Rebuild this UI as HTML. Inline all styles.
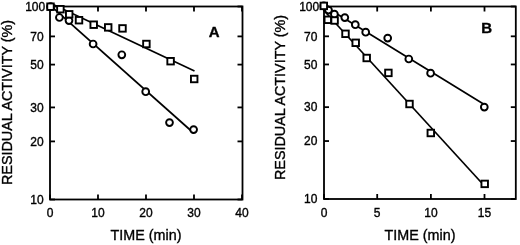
<!DOCTYPE html>
<html><head><meta charset="utf-8"><style>
html,body{margin:0;padding:0;background:#fff;}
svg{display:block;will-change:transform;}
text{font-family:"Liberation Sans", sans-serif;fill:#000;stroke:#000;stroke-width:0.35px;}
</style></head><body>
<svg width="520" height="245" viewBox="0 0 520 245">
<defs><filter id="bl" x="0" y="0" width="100%" height="100%"><feGaussianBlur stdDeviation="0.3"/></filter></defs>
<rect width="520" height="245" fill="#fff"/>
<g filter="url(#bl)">
<rect width="520" height="245" fill="#fff"/>
<rect x="50" y="6.5" width="192.5" height="193.0" fill="none" stroke="#000" stroke-width="1.8"/>
<line x1="50" y1="199.5" x2="50" y2="194.5" stroke="#000" stroke-width="1.8"/>
<line x1="50" y1="6.5" x2="50" y2="11.5" stroke="#000" stroke-width="1.8"/>
<text x="50" y="216.5" text-anchor="middle" font-size="12">0</text>
<line x1="98" y1="199.5" x2="98" y2="194.5" stroke="#000" stroke-width="1.8"/>
<line x1="98" y1="6.5" x2="98" y2="11.5" stroke="#000" stroke-width="1.8"/>
<text x="98" y="216.5" text-anchor="middle" font-size="12">10</text>
<line x1="146" y1="199.5" x2="146" y2="194.5" stroke="#000" stroke-width="1.8"/>
<line x1="146" y1="6.5" x2="146" y2="11.5" stroke="#000" stroke-width="1.8"/>
<text x="146" y="216.5" text-anchor="middle" font-size="12">20</text>
<line x1="194" y1="199.5" x2="194" y2="194.5" stroke="#000" stroke-width="1.8"/>
<line x1="194" y1="6.5" x2="194" y2="11.5" stroke="#000" stroke-width="1.8"/>
<text x="194" y="216.5" text-anchor="middle" font-size="12">30</text>
<line x1="242" y1="199.5" x2="242" y2="194.5" stroke="#000" stroke-width="1.8"/>
<line x1="242" y1="6.5" x2="242" y2="11.5" stroke="#000" stroke-width="1.8"/>
<text x="242" y="216.5" text-anchor="middle" font-size="12">40</text>
<line x1="50" y1="6.50" x2="55" y2="6.50" stroke="#000" stroke-width="1.8"/>
<line x1="242.5" y1="6.50" x2="237.5" y2="6.50" stroke="#000" stroke-width="1.8"/>
<text x="45.2" y="10.70" text-anchor="end" font-size="12">100</text>
<line x1="50" y1="36.40" x2="55" y2="36.40" stroke="#000" stroke-width="1.8"/>
<line x1="242.5" y1="36.40" x2="237.5" y2="36.40" stroke="#000" stroke-width="1.8"/>
<text x="43.7" y="40.60" text-anchor="end" font-size="12">70</text>
<line x1="50" y1="64.60" x2="55" y2="64.60" stroke="#000" stroke-width="1.8"/>
<line x1="242.5" y1="64.60" x2="237.5" y2="64.60" stroke="#000" stroke-width="1.8"/>
<text x="43.7" y="68.80" text-anchor="end" font-size="12">50</text>
<line x1="50" y1="107.42" x2="55" y2="107.42" stroke="#000" stroke-width="1.8"/>
<line x1="242.5" y1="107.42" x2="237.5" y2="107.42" stroke="#000" stroke-width="1.8"/>
<text x="43.7" y="111.62" text-anchor="end" font-size="12">30</text>
<line x1="50" y1="141.40" x2="55" y2="141.40" stroke="#000" stroke-width="1.8"/>
<line x1="242.5" y1="141.40" x2="237.5" y2="141.40" stroke="#000" stroke-width="1.8"/>
<text x="43.7" y="145.60" text-anchor="end" font-size="12">20</text>
<line x1="50" y1="199.50" x2="55" y2="199.50" stroke="#000" stroke-width="1.8"/>
<line x1="242.5" y1="199.50" x2="237.5" y2="199.50" stroke="#000" stroke-width="1.8"/>
<text x="43.7" y="203.70" text-anchor="end" font-size="12">10</text>
<line x1="51" y1="3.5" x2="194.5" y2="70.9" stroke="#000" stroke-width="1.7"/>
<line x1="50.5" y1="5.6" x2="193.6" y2="133" stroke="#000" stroke-width="1.7"/>
<circle cx="50.5" cy="6.7" r="3.4" fill="#fff" stroke="#000" stroke-width="1.9"/>
<circle cx="59.4" cy="17.5" r="3.4" fill="#fff" stroke="#000" stroke-width="1.9"/>
<circle cx="69" cy="20.6" r="3.4" fill="#fff" stroke="#000" stroke-width="1.9"/>
<circle cx="93.1" cy="44" r="3.4" fill="#fff" stroke="#000" stroke-width="1.9"/>
<circle cx="121.8" cy="54.8" r="3.4" fill="#fff" stroke="#000" stroke-width="1.9"/>
<circle cx="145.7" cy="91.7" r="3.4" fill="#fff" stroke="#000" stroke-width="1.9"/>
<circle cx="169.5" cy="122.6" r="3.4" fill="#fff" stroke="#000" stroke-width="1.9"/>
<circle cx="193.6" cy="129.6" r="3.4" fill="#fff" stroke="#000" stroke-width="1.9"/>
<rect x="47.25" y="3.45" width="6.5" height="6.5" fill="#fff" stroke="#000" stroke-width="1.9"/>
<rect x="57.15" y="5.95" width="6.5" height="6.5" fill="#fff" stroke="#000" stroke-width="1.9"/>
<rect x="65.95" y="11.05" width="6.5" height="6.5" fill="#fff" stroke="#000" stroke-width="1.9"/>
<rect x="75.75" y="16.95" width="6.5" height="6.5" fill="#fff" stroke="#000" stroke-width="1.9"/>
<rect x="90.45" y="21.45" width="6.5" height="6.5" fill="#fff" stroke="#000" stroke-width="1.9"/>
<rect x="104.95" y="24.15" width="6.5" height="6.5" fill="#fff" stroke="#000" stroke-width="1.9"/>
<rect x="119.25" y="25.15" width="6.5" height="6.5" fill="#fff" stroke="#000" stroke-width="1.9"/>
<rect x="143.15" y="40.75" width="6.5" height="6.5" fill="#fff" stroke="#000" stroke-width="1.9"/>
<rect x="167.35" y="57.95" width="6.5" height="6.5" fill="#fff" stroke="#000" stroke-width="1.9"/>
<rect x="190.95" y="75.75" width="6.5" height="6.5" fill="#fff" stroke="#000" stroke-width="1.9"/>
<text x="146" y="240.3" text-anchor="middle" font-size="14.35">TIME (min)</text>
<text transform="translate(12.2,102.5) rotate(-90)" text-anchor="middle" font-size="14.35">RESIDUAL ACTIVITY (%)</text>
<text x="214.2" y="36.6" text-anchor="middle" font-size="15" font-weight="bold">A</text>
<rect x="324" y="6.5" width="191.79999999999995" height="192.5" fill="none" stroke="#000" stroke-width="1.8"/>
<line x1="324" y1="199" x2="324" y2="194" stroke="#000" stroke-width="1.8"/>
<line x1="324" y1="6.5" x2="324" y2="11.5" stroke="#000" stroke-width="1.8"/>
<text x="324" y="216.5" text-anchor="middle" font-size="12">0</text>
<line x1="377.2" y1="199" x2="377.2" y2="194" stroke="#000" stroke-width="1.8"/>
<line x1="377.2" y1="6.5" x2="377.2" y2="11.5" stroke="#000" stroke-width="1.8"/>
<text x="377.2" y="216.5" text-anchor="middle" font-size="12">5</text>
<line x1="430.9" y1="199" x2="430.9" y2="194" stroke="#000" stroke-width="1.8"/>
<line x1="430.9" y1="6.5" x2="430.9" y2="11.5" stroke="#000" stroke-width="1.8"/>
<text x="430.9" y="216.5" text-anchor="middle" font-size="12">10</text>
<line x1="484.5" y1="199" x2="484.5" y2="194" stroke="#000" stroke-width="1.8"/>
<line x1="484.5" y1="6.5" x2="484.5" y2="11.5" stroke="#000" stroke-width="1.8"/>
<text x="484.5" y="216.5" text-anchor="middle" font-size="12">15</text>
<line x1="324" y1="6.50" x2="329" y2="6.50" stroke="#000" stroke-width="1.8"/>
<line x1="515.8" y1="6.50" x2="510.79999999999995" y2="6.50" stroke="#000" stroke-width="1.8"/>
<text x="319.2" y="10.70" text-anchor="end" font-size="12">100</text>
<line x1="324" y1="36.32" x2="329" y2="36.32" stroke="#000" stroke-width="1.8"/>
<line x1="515.8" y1="36.32" x2="510.79999999999995" y2="36.32" stroke="#000" stroke-width="1.8"/>
<text x="317.4" y="40.52" text-anchor="end" font-size="12">70</text>
<line x1="324" y1="64.45" x2="329" y2="64.45" stroke="#000" stroke-width="1.8"/>
<line x1="515.8" y1="64.45" x2="510.79999999999995" y2="64.45" stroke="#000" stroke-width="1.8"/>
<text x="317.4" y="68.65" text-anchor="end" font-size="12">50</text>
<line x1="324" y1="107.15" x2="329" y2="107.15" stroke="#000" stroke-width="1.8"/>
<line x1="515.8" y1="107.15" x2="510.79999999999995" y2="107.15" stroke="#000" stroke-width="1.8"/>
<text x="317.4" y="111.35" text-anchor="end" font-size="12">30</text>
<line x1="324" y1="141.05" x2="329" y2="141.05" stroke="#000" stroke-width="1.8"/>
<line x1="515.8" y1="141.05" x2="510.79999999999995" y2="141.05" stroke="#000" stroke-width="1.8"/>
<text x="317.4" y="145.25" text-anchor="end" font-size="12">20</text>
<line x1="324" y1="199.00" x2="329" y2="199.00" stroke="#000" stroke-width="1.8"/>
<line x1="515.8" y1="199.00" x2="510.79999999999995" y2="199.00" stroke="#000" stroke-width="1.8"/>
<text x="317.4" y="203.20" text-anchor="end" font-size="12">10</text>
<line x1="323.7" y1="10.2" x2="484.5" y2="186" stroke="#000" stroke-width="1.7"/>
<line x1="323.7" y1="5.8" x2="484.3" y2="104.5" stroke="#000" stroke-width="1.7"/>
<circle cx="323.8" cy="5.9" r="3.4" fill="#fff" stroke="#000" stroke-width="1.9"/>
<circle cx="328.5" cy="10.1" r="3.4" fill="#fff" stroke="#000" stroke-width="1.9"/>
<circle cx="334.4" cy="14.2" r="3.4" fill="#fff" stroke="#000" stroke-width="1.9"/>
<circle cx="344.8" cy="17.6" r="3.4" fill="#fff" stroke="#000" stroke-width="1.9"/>
<circle cx="355.3" cy="24.7" r="3.4" fill="#fff" stroke="#000" stroke-width="1.9"/>
<circle cx="365.7" cy="32.2" r="3.4" fill="#fff" stroke="#000" stroke-width="1.9"/>
<circle cx="387.7" cy="38.1" r="3.4" fill="#fff" stroke="#000" stroke-width="1.9"/>
<circle cx="408.8" cy="59" r="3.4" fill="#fff" stroke="#000" stroke-width="1.9"/>
<circle cx="430.6" cy="73.2" r="3.4" fill="#fff" stroke="#000" stroke-width="1.9"/>
<circle cx="484.3" cy="107.1" r="3.4" fill="#fff" stroke="#000" stroke-width="1.9"/>
<rect x="320.55" y="2.65" width="6.5" height="6.5" fill="#fff" stroke="#000" stroke-width="1.9"/>
<rect x="324.55" y="16.55" width="6.5" height="6.5" fill="#fff" stroke="#000" stroke-width="1.9"/>
<rect x="331.35" y="17.25" width="6.5" height="6.5" fill="#fff" stroke="#000" stroke-width="1.9"/>
<rect x="342.25" y="30.55" width="6.5" height="6.5" fill="#fff" stroke="#000" stroke-width="1.9"/>
<rect x="352.45" y="39.55" width="6.5" height="6.5" fill="#fff" stroke="#000" stroke-width="1.9"/>
<rect x="363.45" y="54.75" width="6.5" height="6.5" fill="#fff" stroke="#000" stroke-width="1.9"/>
<rect x="385.15" y="69.65" width="6.5" height="6.5" fill="#fff" stroke="#000" stroke-width="1.9"/>
<rect x="406.25" y="100.75" width="6.5" height="6.5" fill="#fff" stroke="#000" stroke-width="1.9"/>
<rect x="427.55" y="129.75" width="6.5" height="6.5" fill="#fff" stroke="#000" stroke-width="1.9"/>
<rect x="481.45" y="180.65" width="6.5" height="6.5" fill="#fff" stroke="#000" stroke-width="1.9"/>
<text x="420" y="240.3" text-anchor="middle" font-size="14.35">TIME (min)</text>
<text transform="translate(284.5,97.5) rotate(-90)" text-anchor="middle" font-size="14.35">RESIDUAL ACTIVITY (%)</text>
<text x="486.6" y="32.5" text-anchor="middle" font-size="15" font-weight="bold">B</text>
</g>
</svg>
</body></html>
